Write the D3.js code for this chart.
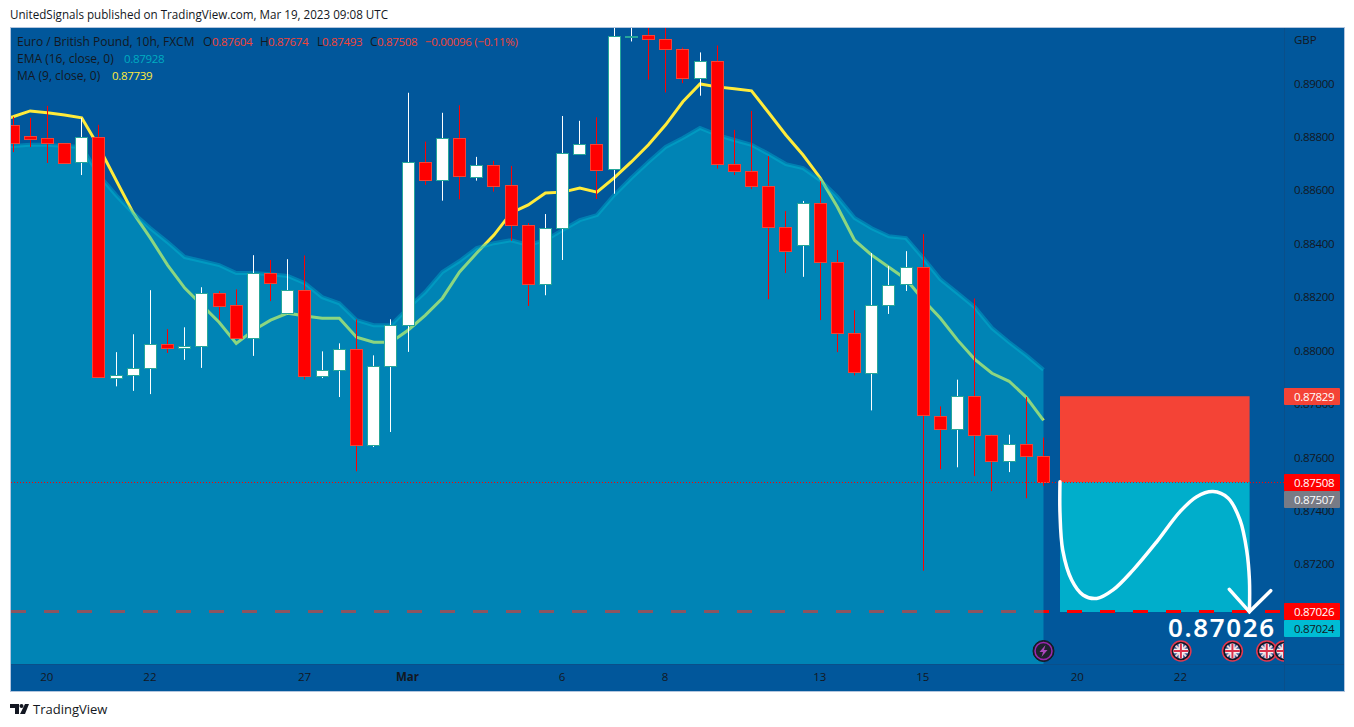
<!DOCTYPE html>
<html>
<head>
    <title>EUR/GBP 10h</title>
    <script src="https://d3js.org/d3.v7.min.js"></script>
    <style>
        body { margin: 0; background-color: #fff; }
        svg { display: block; }
        text { font-family: "Open Sans", sans-serif; fill: #131722; }
    </style>
</head>
<body>
<script>
    // candles
    const opens = [0.88845,0.88803,0.88796,0.88777,0.88706,0.88800,0.87900,0.87910,0.87935,0.88026,0.88010,0.88019,0.88217,0.88169,0.88047,0.88292,0.88142,0.88227,0.87906,0.87929,0.88006,0.87648,0.87942,0.88097,0.88706,0.88637,0.88795,0.88652,0.88696,0.88619,0.88469,0.88250,0.88460,0.88739,0.88775,0.88679,0.89176,0.89181,0.89166,0.89128,0.89020,0.89082,0.88697,0.88671,0.88615,0.88461,0.88394,0.88551,0.88330,0.88065,0.87919,0.88172,0.88247,0.88311,0.87756,0.87706,0.87831,0.87685,0.87586,0.87650,0.87604];
    const closes = [0.88777,0.88792,0.88777,0.88702,0.88800,0.87900,0.87910,0.87935,0.88026,0.88011,0.88018,0.88217,0.88169,0.88047,0.88292,0.88255,0.88227,0.87906,0.87929,0.88006,0.87648,0.87942,0.88096,0.88706,0.88637,0.88795,0.88652,0.88696,0.88619,0.88469,0.88250,0.88460,0.88739,0.88775,0.88679,0.89176,0.89179,0.89166,0.89128,0.89020,0.89082,0.88697,0.88671,0.88615,0.88461,0.88371,0.88551,0.88330,0.88065,0.87919,0.88172,0.88246,0.88311,0.87756,0.87706,0.87831,0.87685,0.87586,0.87650,0.87604,0.87508];
    const highs = [0.88875,0.88871,0.88916,0.88777,0.88871,0.88845,0.87994,0.88061,0.88226,0.88080,0.88087,0.88237,0.88222,0.88229,0.88357,0.88339,0.88342,0.88356,0.87997,0.88027,0.88116,0.87982,0.88117,0.88965,0.88782,0.88890,0.88918,0.88725,0.88710,0.88691,0.88477,0.88511,0.88878,0.88860,0.88873,0.89230,0.89230,0.89230,0.89230,0.89134,0.89116,0.89142,0.88826,0.88897,0.88728,0.88522,0.88560,0.88634,0.88376,0.88151,0.88365,0.88316,0.88372,0.88436,0.87791,0.87891,0.88195,0.87685,0.87685,0.87826,0.87674];
    const lows = [0.88743,0.88762,0.88702,0.88702,0.88657,0.87900,0.87866,0.87849,0.87837,0.87991,0.87965,0.87935,0.88114,0.88047,0.87980,0.88185,0.88136,0.87892,0.87897,0.87826,0.87548,0.87639,0.87695,0.87995,0.88620,0.88561,0.88566,0.88636,0.88595,0.88411,0.88167,0.88207,0.88339,0.88739,0.88567,0.88587,0.89157,0.89014,0.88966,0.89001,0.88954,0.88681,0.88657,0.88605,0.88192,0.88290,0.88276,0.88114,0.87994,0.87907,0.87776,0.88137,0.88223,0.87176,0.87556,0.87563,0.87530,0.87474,0.87545,0.87447,0.87493];

    // indicators, the first value belongs to the bar just off the left edge
    const emaValues = [0.88768,0.88766,0.88770,0.88770,0.88766,0.88762,0.88657,0.88582,0.88515,0.88458,0.88406,0.88350,0.88335,0.88320,0.88290,0.88290,0.88286,0.88279,0.88252,0.88200,0.88177,0.88114,0.88095,0.88095,0.88159,0.88219,0.88294,0.88335,0.88384,0.88402,0.88413,0.88395,0.88413,0.88451,0.88488,0.88507,0.88582,0.88646,0.88706,0.88762,0.88796,0.88833,0.88807,0.88788,0.88770,0.88736,0.88698,0.88683,0.88638,0.88575,0.88496,0.88458,0.88428,0.88421,0.88346,0.88267,0.88215,0.88162,0.88084,0.88031,0.87982,0.87928];
    const maValues = [0.88855,0.88875,0.88897,0.88890,0.88882,0.88871,0.88762,0.88638,0.88515,0.88421,0.88320,0.88234,0.88170,0.88106,0.88027,0.88076,0.88114,0.88140,0.88129,0.88121,0.88121,0.88050,0.88031,0.88031,0.88076,0.88132,0.88196,0.88294,0.88365,0.88432,0.88515,0.88545,0.88590,0.88593,0.88608,0.88593,0.88646,0.88706,0.88770,0.88845,0.88931,0.88998,0.88987,0.88980,0.88972,0.88890,0.88807,0.88732,0.88646,0.88537,0.88413,0.88357,0.88312,0.88267,0.88189,0.88121,0.88039,0.87967,0.87915,0.87885,0.87825,0.87739];

    // drawing on the chart, bar index and price
    const curveBars = [60.96,60.96,61.12,61.64,62.30,63.10,64.05,65.21,66.59,67.95,68.92,69.87,70.74,71.44,71.83,71.99,71.99];
    const curvePrices = [0.87509,0.87392,0.87253,0.87141,0.87085,0.87072,0.87104,0.87178,0.87284,0.87397,0.87453,0.87472,0.87448,0.87366,0.87253,0.87141,0.87022];
    const arrowBars = [70.82,71.99,73.23];
    const arrowPrices = [0.87106,0.87022,0.87101];

    const priceTicks = [0.874,0.876,0.878,0.88,0.882,0.884,0.886,0.888,0.89,0.872];
    const timeTicks = [2,8,17,23,32,38,47,53,62,68];
    const timeLabels = ["20","22","27","Mar","6","8","13","15","20","22"];
    const ukEvents = [68,71,73,74];

    const stopPrice = 0.87829, entryPrice = 0.87508, targetPrice = 0.87026;
    const priceTags = [
        {price: 0.87829, label: "0.87829", bg: "#f44336", fg: "#fff"},
        {price: 0.87508, label: "0.87508", bg: "#ff0000", fg: "#fff"},
        {price: 0.87507, label: "0.87507", bg: "#787b86", fg: "#fff", offset: 17},
        {price: 0.87026, label: "0.87026", bg: "#ff0000", fg: "#fff"},
        {price: 0.87024, label: "0.87024", bg: "#00bcd4", fg: "#131722", offset: 17}
    ];

    const plot = {left: 11, right: 1284, top: 27, bottom: 664, axisRight: 1344, axisBottom: 691};
    const bg = "#01579b";

    const x = d3.scaleLinear().domain([0, 60]).range([13, 1043.5]);
    const y = d3.scaleLinear().domain([0.87, 0.89]).range([617.7, 83.4]);

    const svg = d3.select("body").append("svg").attr("width", 1354).attr("height", 727);

    svg.append("text").attr("x", 10).attr("y", 19).style("font-size", "12px")
        .attr("textLength", 378).attr("lengthAdjust", "spacingAndGlyphs")
        .text("UnitedSignals published on TradingView.com, Mar 19, 2023 09:08 UTC");

    // frame
    svg.append("rect").attr("x", 10.5).attr("y", 27.5)
        .attr("width", plot.axisRight - 10).attr("height", plot.axisBottom - 27)
        .attr("fill", bg).attr("stroke", "#b2c5de");

    svg.append("clipPath").attr("id", "plot-clip").append("rect")
        .attr("x", plot.left).attr("y", plot.top + 1)
        .attr("width", plot.right - plot.left).attr("height", plot.bottom - plot.top - 1);

    const chart = svg.append("g").attr("clip-path", "url(#plot-clip)");

    // position tool
    const targetY = Math.round(y(targetPrice)) + 1;
    const entryY = Math.round(y(entryPrice));
    chart.append("rect").attr("x", x(60.96)).attr("width", x(72) - x(60.96))
        .attr("y", y(stopPrice)).attr("height", entryY - y(stopPrice)).attr("fill", "#f44336");
    chart.append("rect").attr("x", x(60.96)).attr("width", x(72) - x(60.96))
        .attr("y", entryY).attr("height", targetY - entryY).attr("fill", "#00aecb");

    // target line, it sits under the EMA area
    chart.append("line").attr("x1", plot.left).attr("x2", plot.right)
        .attr("y1", targetY - 0.5).attr("y2", targetY - 0.5)
        .attr("stroke", "#ff0000").attr("stroke-width", 3).attr("stroke-dasharray", "15 18");

    const ma = d3.line().x((d, i) => x(i - 1)).y(d => y(d));
    chart.append("path").datum(maValues).attr("d", ma)
        .attr("fill", "none").attr("stroke", "#ffeb3b").attr("stroke-width", 3);

    const area = d3.area().x((d, i) => x(i - 1)).y0(plot.bottom).y1(d => y(d));
    chart.append("path").datum(emaValues).attr("d", area)
        .attr("fill", "#00bcd4").attr("fill-opacity", 0.45);
    chart.append("path").datum(emaValues).attr("d", ma)
        .attr("fill", "none").attr("stroke", "#00bcd4").attr("stroke-opacity", 0.4).attr("stroke-width", 4);

    // candles
    const candles = opens.map((o, i) => ({i: i, o: o, c: closes[i], h: highs[i], l: lows[i], up: closes[i] >= o}));
    const candle = chart.selectAll(".candle").data(candles).enter().append("g").attr("class", "candle");
    candle.append("line")
        .attr("x1", d => Math.floor(x(d.i)) + 0.5).attr("x2", d => Math.floor(x(d.i)) + 0.5)
        .attr("y1", d => y(d.h)).attr("y2", d => y(d.l))
        .attr("stroke", d => d.up ? "#fff" : "#ff0000");
    candle.append("rect")
        .attr("x", d => Math.floor(x(d.i)) - 5.5).attr("width", 12)
        .attr("y", d => Math.round(y(Math.max(d.o, d.c))) + 0.5)
        .attr("height", d => Math.max(1, Math.round(Math.abs(y(d.o) - y(d.c)))))
        .attr("fill", d => d.up ? "#fff" : "#ff0000")
        .attr("stroke", d => d.up ? "#26a69a" : "#f44336");

    // last price line
    chart.append("line").attr("x1", plot.left).attr("x2", plot.right)
        .attr("y1", entryY + 0.5).attr("y2", entryY + 0.5)
        .attr("stroke", "#ff0000").attr("stroke-dasharray", "1 2");

    // hand drawn curve and arrow
    const curve = d3.line().x(d => x(d[0])).y(d => y(d[1])).curve(d3.curveCatmullRom);
    chart.append("path").datum(d3.zip(curveBars, curvePrices)).attr("d", curve)
        .attr("fill", "none").attr("stroke", "#fff").attr("stroke-width", 3.5).attr("stroke-linecap", "round");
    chart.append("path").datum(d3.zip(arrowBars, arrowPrices)).attr("d", d3.line().x(d => x(d[0])).y(d => y(d[1])))
        .attr("fill", "none").attr("stroke", "#fff").attr("stroke-width", 3.5).attr("stroke-linecap", "round");

    svg.append("text").attr("x", 1168).attr("y", 637)
        .style("font-family", "Noto Sans").style("font-size", "26px").style("font-weight", 600)
        .style("letter-spacing", "1.6px").style("fill", "#fff").text("0.87026");

    // event icons
    const events = chart.append("g");
    const lightning = events.append("g").attr("transform", "translate(" + x(60) + ",651)");
    lightning.append("circle").attr("r", 10.5).attr("fill", "#1e222d").attr("stroke", "#131722").attr("stroke-width", 1);
    lightning.append("circle").attr("r", 8.5).attr("fill", "none").attr("stroke", "#9c27b0").attr("stroke-width", 1.5);
    lightning.append("path").attr("d", "M2 -6 L-4 1 L-0.5 1 L-2 6 L4 -1 L0.5 -1 Z").attr("fill", "#ab47bc");

    svg.append("clipPath").attr("id", "flag-clip").append("circle").attr("r", 7.5);
    const flag = events.selectAll(".flag").data(ukEvents).enter().append("g").attr("class", "flag")
        .attr("transform", d => "translate(" + x(d) + ",651)");
    flag.append("circle").attr("r", 10).attr("fill", "#131722").attr("stroke", "#e53950").attr("stroke-width", 1.5);
    const flagInner = flag.append("g").attr("clip-path", "url(#flag-clip)");
    flagInner.append("rect").attr("x", -8).attr("y", -8).attr("width", 16).attr("height", 16).attr("fill", "#3f5f9e");
    flagInner.append("path").attr("d", "M-8 -8 L8 8 M8 -8 L-8 8").attr("stroke", "#f0d0d4").attr("stroke-width", 2);
    flagInner.append("path").attr("d", "M0 -8 V8 M-8 0 H8").attr("stroke", "#f2f2f2").attr("stroke-width", 4.5);
    flagInner.append("path").attr("d", "M0 -8 V8 M-8 0 H8").attr("stroke", "#d9304a").attr("stroke-width", 2);

    // axes
    svg.append("line").attr("x1", plot.right + 0.5).attr("x2", plot.right + 0.5).attr("y1", 28).attr("y2", plot.axisBottom)
        .attr("stroke", "#0a4f8a");
    svg.append("line").attr("x1", plot.left).attr("x2", plot.axisRight).attr("y1", plot.bottom + 0.5).attr("y2", plot.bottom + 0.5)
        .attr("stroke", "#0a4f8a");

    const numberSpacing = "-0.3px";
    const yAxis = svg.append("g").attr("transform", "translate(" + plot.right + ",0)")
        .call(d3.axisRight(y).tickValues(priceTicks).tickSize(0).tickPadding(10).tickFormat(d3.format(".5f")));
    const xAxis = svg.append("g").attr("transform", "translate(-1," + plot.bottom + ")")
        .call(d3.axisBottom(x).tickValues(timeTicks).tickSize(0).tickPadding(9).tickFormat((d, i) => timeLabels[i]));
    yAxis.select(".domain").remove();
    xAxis.select(".domain").remove();
    yAxis.selectAll("text").style("font-family", "Open Sans").style("font-size", "11.5px")
        .style("letter-spacing", numberSpacing).style("fill", "#131722");
    xAxis.selectAll("text").style("font-family", "Open Sans").style("font-size", "11.5px").style("fill", "#131722")
        .style("font-weight", d => d === 23 ? 700 : 400);

    svg.append("text").attr("x", 1294).attr("y", 44).style("font-size", "11.5px").text("GBP");

    // price tags
    const tag = svg.selectAll(".tag").data(priceTags).enter().append("g").attr("class", "tag")
        .attr("transform", d => "translate(" + plot.right + "," + (Math.round(y(d.price)) + 0.5 + (d.offset || 0)) + ")");
    tag.append("rect").attr("x", 0).attr("y", -8.5).attr("width", 56).attr("height", 17).attr("rx", 1).attr("fill", d => d.bg);
    tag.append("text").attr("x", 10).attr("y", 4).style("font-size", "11.5px").style("letter-spacing", numberSpacing)
        .style("fill", d => d.fg).text(d => d.label);

    // legend
    const legendRed = "#f44336";
    const legend = svg.append("g").style("font-size", "12px");
    legend.append("text").attr("x", 17).attr("y", 46).text("Euro / British Pound, 10h, FXCM");
    [["O", 203, "0.87604", 212], ["H", 260, "0.87674", 268], ["L", 317, "0.87493", 322], ["C", 370, "0.87508", 377]]
        .forEach(function (item) {
            legend.append("text").attr("x", item[1]).attr("y", 46).text(item[0]);
            legend.append("text").attr("x", item[3]).attr("y", 46).style("fill", legendRed)
                .style("font-size", "11.5px").style("letter-spacing", numberSpacing).text(item[2]);
        });
    legend.append("text").attr("x", 425).attr("y", 46).style("fill", legendRed)
        .style("font-size", "11.5px").style("letter-spacing", numberSpacing).text("\u22120.00096 (\u22120.11%)");
    legend.append("text").attr("x", 17).attr("y", 63).text("EMA (16, close, 0)");
    legend.append("text").attr("x", 124).attr("y", 63).style("fill", "#00acc1")
        .style("font-size", "11.5px").style("letter-spacing", numberSpacing).text("0.87928");
    legend.append("text").attr("x", 17).attr("y", 80).text("MA (9, close, 0)");
    legend.append("text").attr("x", 112).attr("y", 80).style("fill", "#ffeb3b")
        .style("font-size", "11.5px").style("letter-spacing", numberSpacing).text("0.87739");

    // footer
    svg.append("path").attr("d", "M10 704 H19 V714 H15 V708 H10 Z M25 704 H29 L25 714 H20 Z").attr("fill", "#131722");
    svg.append("circle").attr("cx", 21.5).attr("cy", 706).attr("r", 2).attr("fill", "#131722");
    svg.append("text").attr("x", 33).attr("y", 714).style("font-size", "13px").text("TradingView");
</script>
</body>
</html>
